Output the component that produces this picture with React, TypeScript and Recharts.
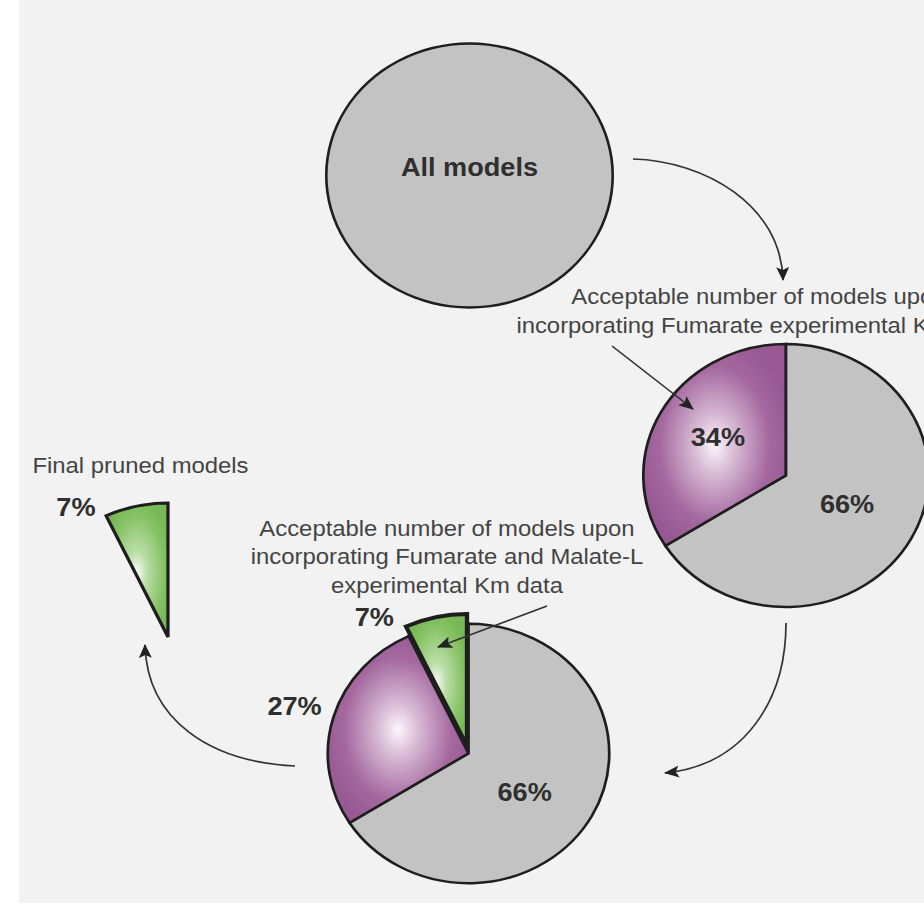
import React from 'react';
import { PieChart, Pie, Cell } from 'recharts';

// the source figure is stretched sideways, so the whole chart is drawn narrow and scaled in x
const SX = 1.085;
const W = Math.round(924 / SX);
const H = 905;
const u = (x: number) => x / SX;

const allModels = [{ name: 'All models', value: 100 }];
const fumarateShares = [
  { name: 'Acceptable (Fumarate Km)', value: 34 },
  { name: 'Rejected', value: 66 },
];
const malateShares = [
  { name: 'Acceptable (Fumarate + Malate-L Km)', value: 7 },
  { name: 'Acceptable (Fumarate Km only)', value: 27 },
  { name: 'Rejected', value: 66 },
];
const highlightShares = [
  { name: 'Acceptable (Fumarate + Malate-L Km)', value: 7 },
  { name: 'rest', value: 93 },
];
const finalShares = [
  { name: 'Final pruned models', value: 7 },
  { name: 'rest', value: 93 },
];

const topNote = [
  'Acceptable number of models upon',
  'incorporating Fumarate experimental Km data',
];
const bottomNote = [
  'Acceptable number of models upon',
  'incorporating Fumarate and Malate-L',
  'experimental Km data',
];
const finalNote = 'Final pruned models';

const GRAY = '#c3c3c3';
const EDGE = '#1e1e1e';
const TEXT = '#444444';
const BOLD = '#2f2f2f';
const FONT = '"Liberation Sans", Arial, sans-serif';

type Spot = { angle: number; k: number } | null;
const RAD = Math.PI / 180;

const makeLabel =
  (spots: Spot[], fmt: (p: any) => string) =>
  (props: any) => {
    const spot = spots[props.index];
    if (!spot) return <g />;
    const r = props.outerRadius * spot.k;
    const x = props.cx + r * Math.cos(spot.angle * RAD);
    const y = props.cy - r * Math.sin(spot.angle * RAD);
    return (
      <text
        x={x}
        y={y}
        textAnchor="middle"
        dominantBaseline="central"
        fontFamily={FONT}
        fontWeight="bold"
        fontSize={25}
        fill={BOLD}
      >
        {fmt(props)}
      </text>
    );
  };

const pct = (p: any) => `${p.value}%`;

// arrows and notes sit in a layer above the chart
const Overlay = () => (
  <svg
    width={W}
    height={H}
    style={{ position: 'absolute', left: 0, top: 0, pointerEvents: 'none' }}
  >
    <defs>
      <radialGradient id="purpleGlow" cx="50%" cy="50%" r="55%">
        <stop offset="0" stopColor="#fcf6fb" />
        <stop offset="0.25" stopColor="#d9bdd6" />
        <stop offset="0.7" stopColor="#a4689f" />
        <stop offset="1" stopColor="#975893" />
      </radialGradient>
      <radialGradient id="greenGlow" cx="50%" cy="52%" r="55%">
        <stop offset="0" stopColor="#f5fbf1" />
        <stop offset="0.3" stopColor="#b9dda6" />
        <stop offset="0.8" stopColor="#84c162" />
        <stop offset="1" stopColor="#78b856" />
      </radialGradient>
      <marker
        id="head"
        viewBox="0 0 14 12"
        markerWidth={14}
        markerHeight={12}
        refX={13}
        refY={6}
        markerUnits="userSpaceOnUse"
        orient="auto"
      >
        <path d="M0,0 L14,6 L0,12 L3,6 z" fill="#222" />
      </marker>
    </defs>
    <g fill="none" stroke="#333" strokeWidth={1.6} markerEnd="url(#head)">
      <path d={`M${u(633)},159 C${u(705)},161 ${u(781)},205 ${u(783)},280`} />
      <path d={`M${u(612)},346 L${u(693)},409`} />
      <path d={`M${u(786)},623 C${u(786)},700 ${u(745)},765 ${u(665)},773`} />
      <path d={`M${u(295)},766 C${u(210)},762 ${u(147)},720 ${u(145)},645`} />
      <path d={`M${u(547)},606 L${u(438)},647`} />
    </g>
    <g fontFamily={FONT} fontSize={22} fill={TEXT} textAnchor="middle">
      {topNote.map((t, i) => (
        <text key={t} x={u(759)} y={304 + i * 29.5}>
          {t}
        </text>
      ))}
      {bottomNote.map((t, i) => (
        <text key={t} x={u(447)} y={536 + i * 28.5}>
          {t}
        </text>
      ))}
      <text x={u(140.5)} y={473}>
        {finalNote}
      </text>
    </g>
  </svg>
);

export default function App() {
  return (
    <div style={{ position: 'absolute', left: 0, top: 0, width: 924, height: 905, background: '#fff', overflow: 'hidden' }}>
      <div style={{ position: 'absolute', left: 19, top: 0, width: 905, height: 903, background: '#f2f2f2' }} />
      <div style={{ position: 'absolute', left: 0, top: 0, width: W, height: H, transform: `scaleX(${SX})`, transformOrigin: '0 0' }}>
        <PieChart width={W} height={H} margin={{ top: 0, right: 0, bottom: 0, left: 0 }}>
          <Pie
            data={allModels}
            dataKey="value"
            cx={u(469.5)}
            cy={175.5}
            outerRadius={132}
            startAngle={90}
            endAngle={450}
            stroke="none"
            labelLine={false}
            label={makeLabel([{ angle: 90, k: 0.064 }], (p) => p.name)}
            isAnimationActive={false}
          >
            <Cell fill={GRAY} />
          </Pie>
          {/* outline ring, so the full circle has no radial seam */}
          <Pie
            data={allModels}
            dataKey="value"
            cx={u(469.5)}
            cy={175.5}
            innerRadius={130.8}
            outerRadius={133.2}
            startAngle={90}
            endAngle={450}
            stroke="none"
            isAnimationActive={false}
          >
            <Cell fill={EDGE} />
          </Pie>
          <Pie
            data={fumarateShares}
            dataKey="value"
            cx={u(786)}
            cy={475.5}
            outerRadius={131.5}
            startAngle={90}
            endAngle={450}
            stroke={EDGE}
            strokeWidth={2.5}
            labelLine={false}
            label={makeLabel([{ angle: 148.4, k: 0.56 }, { angle: 333.1, k: 0.48 }], pct)}
            isAnimationActive={false}
          >
            <Cell fill="url(#purpleGlow)" />
            <Cell fill={GRAY} />
          </Pie>
          <Pie
            data={malateShares}
            dataKey="value"
            cx={u(468.5)}
            cy={753.5}
            outerRadius={129.7}
            startAngle={90}
            endAngle={450}
            stroke={EDGE}
            strokeWidth={2.5}
            labelLine={false}
            label={makeLabel([null, { angle: 163.7, k: 1.288 }, { angle: 322.9, k: 0.5 }], pct)}
            isAnimationActive={false}
          >
            <Cell fill="url(#greenGlow)" />
            <Cell fill="url(#purpleGlow)" />
            <Cell fill={GRAY} />
          </Pie>
          <Pie
            data={highlightShares}
            dataKey="value"
            cx={u(467)}
            cy={746}
            outerRadius={132}
            startAngle={90}
            endAngle={450}
            labelLine={false}
            label={makeLabel([{ angle: 123.7, k: 1.167 }, null], pct)}
            isAnimationActive={false}
          >
            <Cell fill="url(#greenGlow)" stroke={EDGE} strokeWidth={4} />
            <Cell fill="none" stroke="none" />
          </Pie>
          <Pie
            data={finalShares}
            dataKey="value"
            cx={u(168)}
            cy={637}
            outerRadius={134}
            startAngle={90}
            endAngle={450}
            labelLine={false}
            label={makeLabel([{ angle: 123.1, k: 1.159 }, null], pct)}
            isAnimationActive={false}
          >
            <Cell fill="url(#greenGlow)" stroke={EDGE} strokeWidth={3} />
            <Cell fill="none" stroke="none" />
          </Pie>
        </PieChart>
        <Overlay />
      </div>
    </div>
  );
}
